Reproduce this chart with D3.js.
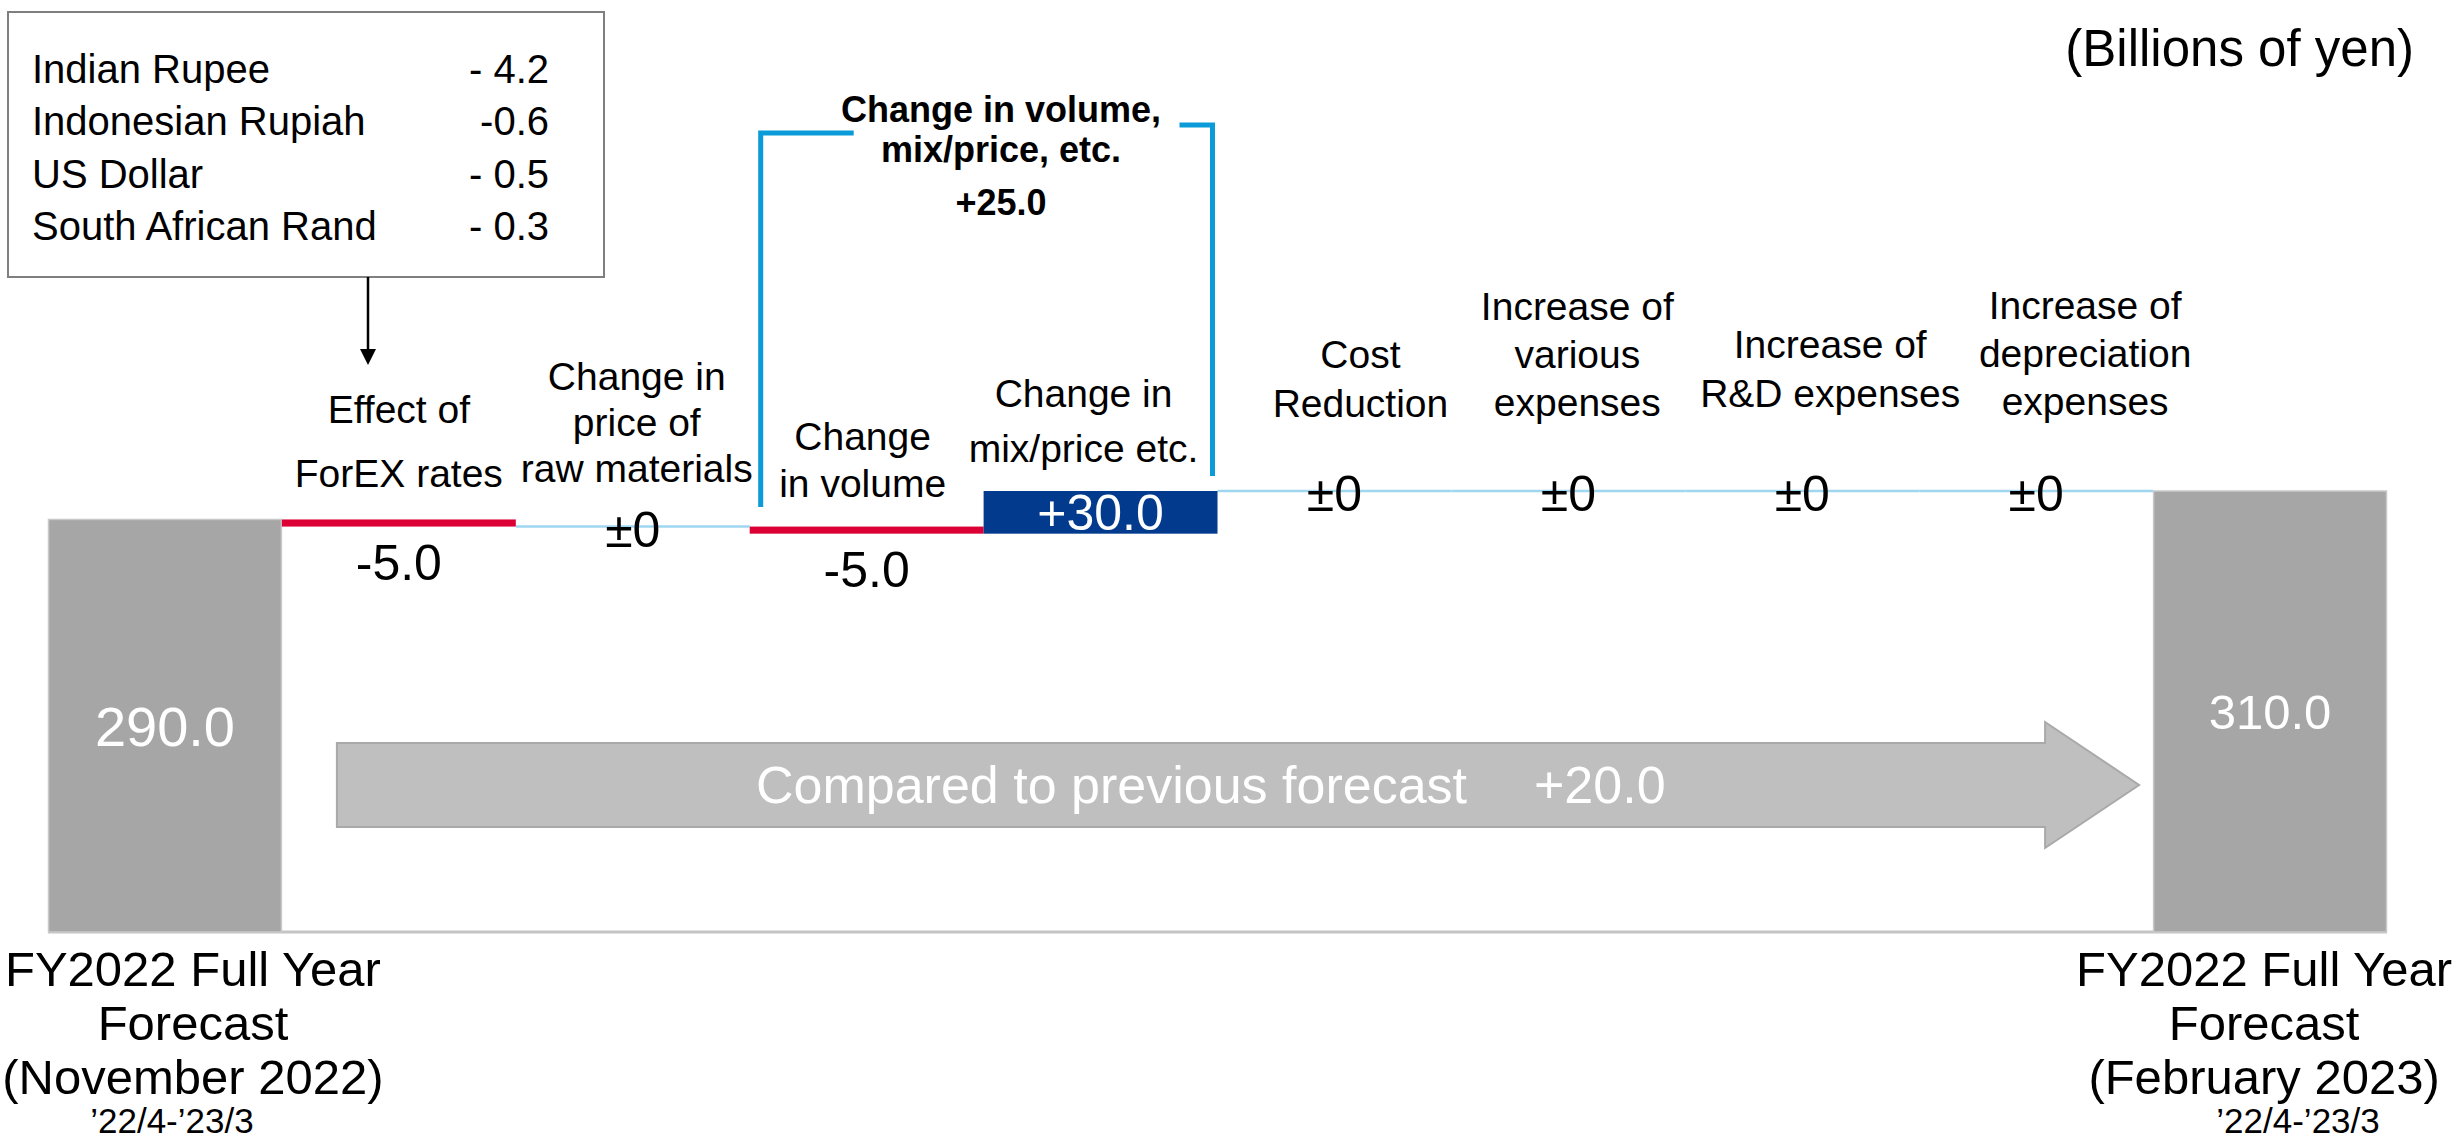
<!DOCTYPE html>
<html>
<head>
<meta charset="utf-8">
<script src="https://cdn.jsdelivr.net/npm/d3@7"></script>
<style>
  html, body { margin: 0; padding: 0; background: #ffffff; }
  svg text { font-family: "Liberation Sans", Arial, sans-serif; }
</style>
</head>
<body>
<svg id="chart" width="2459" height="1146"></svg>
<script>
// ---- data (billions of yen) ----
const startTotal = 290.0;
const endTotal = 310.0;
const stepLabels = [
  ["Effect of", "ForEX rates"],
  ["Change in", "price of", "raw materials"],
  ["Change", "in volume"],
  ["Change in", "mix/price etc."],
  ["Cost", "Reduction"],
  ["Increase of", "various", "expenses"],
  ["Increase of", "R&D expenses"],
  ["Increase of", "depreciation", "expenses"]
];
const stepValues = [-5.0, 0, -5.0, 30.0, 0, 0, 0, 0];
const totalLabels = [
  ["FY2022 Full Year", "Forecast", "(November 2022)"],
  ["FY2022 Full Year", "Forecast", "(February 2023)"]
];
const periodLabel = "\u201922/4-\u201923/3";
const currencyNames = ["Indian Rupee", "Indonesian Rupiah", "US Dollar", "South African Rand"];
const currencyLabels = ["- 4.2", "-0.6", "- 0.5", "- 0.3"];
const groupedSteps = [2, 3];           // volume + mix/price
const groupTitle = ["Change in volume,", "mix/price, etc."];
const unitLabel = "(Billions of yen)";
const arrowLabel = "Compared to previous forecast";

// ---- layout ----
const W = 2459, H = 1146;
const svg = d3.select("#chart");
const RED = "#dc0035", BLUE = "#023a8e", GREY = "#a6a6a6", LINK = "#9fd6f0", BRACKET = "#0a9bd8";

const slots = ["start"].concat(stepValues.map((_, i) => "s" + i), ["end"]);
const x = d3.scaleBand().domain(slots).range([48, 2387]).padding(0);
const y = d3.scaleLinear().domain([0, endTotal]).range([932, 491]);
const bw = x.bandwidth();

const fmt = v => v === 0 ? "\u00b10" : (v < 0 ? "-" : "+") + Math.abs(v).toFixed(1);

// running totals
let run = startTotal;
const steps = stepValues.map((v, i) => {
  const s = { key: "s" + i, v, from: run, to: run + v, lines: stepLabels[i] };
  run += v;
  return s;
});

// baseline
svg.append("line")
  .attr("x1", x("start")).attr("x2", x("end") + bw)
  .attr("y1", y(0)).attr("y2", y(0))
  .attr("stroke", "#c4c4c4").attr("stroke-width", 3);

// total bars
const totals = [{ key: "start", v: startTotal }, { key: "end", v: endTotal }];
svg.selectAll("rect.total").data(totals).join("rect")
  .attr("class", "total")
  .attr("x", d => x(d.key) + 0.5).attr("width", bw - 1)
  .attr("y", d => y(d.v)).attr("height", d => y(0) - y(d.v))
  .attr("fill", GREY).attr("stroke", "#c9c9c9").attr("stroke-width", 1.5);

svg.selectAll("text.totalVal").data(totals).join("text")
  .attr("class", "totalVal")
  .attr("x", d => x(d.key) + bw / 2)
  .attr("y", d => (y(d.v) + y(0)) / 2)
  .attr("dy", "0.36em")
  .attr("text-anchor", "middle")
  .attr("fill", "#ffffff")
  .attr("font-size", (d, i) => i === 0 ? 56 : 49)
  .text(d => d.v.toFixed(1));

// zero steps: connector line at the running level
svg.selectAll("line.flat").data(steps.filter(s => s.v === 0)).join("line")
  .attr("class", "flat")
  .attr("x1", d => x(d.key)).attr("x2", d => x(d.key) + bw)
  .attr("y1", d => y(d.from)).attr("y2", d => y(d.from))
  .attr("stroke", LINK).attr("stroke-width", 2.5);

// non-zero steps
svg.selectAll("rect.step").data(steps.filter(s => s.v !== 0)).join("rect")
  .attr("class", "step")
  .attr("x", d => x(d.key)).attr("width", bw)
  .attr("y", d => y(Math.max(d.from, d.to)))
  .attr("height", d => Math.abs(y(d.from) - y(d.to)))
  .attr("fill", d => d.v < 0 ? RED : BLUE);

// step value labels
svg.selectAll("text.stepVal").data(steps).join("text")
  .attr("class", "stepVal")
  .attr("x", d => x(d.key) + bw / 2)
  .attr("y", d => {
    if (d.v === 0) return y(d.from) + 20;
    if (d.v < 0) return y(d.to) + 53;
    return (y(d.from) + y(d.to)) / 2 + 18;
  })
  .attr("text-anchor", "middle")
  .attr("font-size", 50)
  .attr("fill", d => d.v > 0 ? "#ffffff" : "#000000")
  .text(d => fmt(d.v));

// category labels above each step
const labelPos = [
  { dx: 0, base: 487, gap: 64 },
  { dx: 4, base: 482, gap: 46 },
  { dx: -4, base: 497, gap: 47 },
  { dx: -17, base: 462, gap: 55 },
  { dx: 26, base: 417, gap: 49 },
  { dx: 9, base: 416, gap: 48 },
  { dx: 28, base: 407, gap: 49 },
  { dx: 49, base: 415, gap: 48 }
];
steps.forEach((s, i) => {
  const p = labelPos[i];
  const n = s.lines.length;
  const t = svg.append("text")
    .attr("text-anchor", "middle").attr("font-size", 39).attr("fill", "#000");
  s.lines.forEach((ln, j) => {
    t.append("tspan")
      .attr("x", x(s.key) + bw / 2 + p.dx)
      .attr("y", p.base - (n - 1 - j) * p.gap)
      .text(ln);
  });
});

// total labels under the bars
totals.forEach((d, i) => {
  const cx = x(d.key) + bw / 2 + (i === 0 ? 28 : -6);
  const t = svg.append("text").attr("text-anchor", "middle").attr("font-size", 49).attr("fill", "#000");
  totalLabels[i].forEach((ln, j) => {
    t.append("tspan").attr("x", cx).attr("y", 986 + j * 54).text(ln);
  });
  svg.append("text")
    .attr("x", x(d.key) + bw / 2 + (i === 0 ? 7 : 28))
    .attr("y", 1133)
    .attr("text-anchor", "middle").attr("font-size", 35).attr("fill", "#000")
    .text(periodLabel);
});

// unit label
svg.append("text")
  .attr("x", 2414).attr("y", 66)
  .attr("text-anchor", "end").attr("font-size", 51).attr("fill", "#000")
  .text(unitLabel);

// currency breakdown box with arrow to the ForEX step
const box = { x: 8, y: 12, w: 596, h: 265 };
svg.append("rect")
  .attr("x", box.x).attr("y", box.y).attr("width", box.w).attr("height", box.h)
  .attr("fill", "#fff").attr("stroke", "#7f7f7f").attr("stroke-width", 2);
currencyNames.forEach((nm, i) => {
  const by = 83 + i * 52.3;
  svg.append("text").attr("x", 32).attr("y", by).attr("font-size", 40).attr("fill", "#000").text(nm);
  svg.append("text").attr("x", 549).attr("y", by).attr("text-anchor", "end")
    .attr("font-size", 40).attr("fill", "#000").text(currencyLabels[i]);
});
const ax = 368;
svg.append("line").attr("x1", ax).attr("x2", ax).attr("y1", box.y + box.h).attr("y2", 352)
  .attr("stroke", "#000").attr("stroke-width", 2.5);
svg.append("path")
  .attr("d", `M${ax - 8},349 L${ax + 8},349 L${ax},365 Z`)
  .attr("fill", "#000");

// bracket grouping volume + mix/price
const g0 = steps[groupedSteps[0]], g1 = steps[groupedSteps[groupedSteps.length - 1]];
const groupSum = groupedSteps.reduce((a, i) => a + stepValues[i], 0);
const bl = x(g0.key) + 11, br = x(g1.key) + bw - 5;
svg.append("path")
  .attr("d", `M${bl + 93},133 H${bl} V507`)
  .attr("fill", "none").attr("stroke", BRACKET).attr("stroke-width", 5);
svg.append("path")
  .attr("d", `M${br - 33},125 H${br} V476`)
  .attr("fill", "none").attr("stroke", BRACKET).attr("stroke-width", 5);
const gcx = 1001;
const gt = svg.append("text").attr("text-anchor", "middle").attr("font-size", 36)
  .attr("font-weight", "bold").attr("fill", "#000");
gt.append("tspan").attr("x", gcx).attr("y", 122).text(groupTitle[0]);
gt.append("tspan").attr("x", gcx).attr("y", 162).text(groupTitle[1]);
gt.append("tspan").attr("x", gcx).attr("y", 215).text(fmt(groupSum));

// overall change arrow
const ay = y(0) - 147;
const aL = x(steps[0].key) + 55, aTip = x("end") - 14, aBack = aTip - 94;
svg.append("path")
  .attr("d", `M${aL},${ay - 42} H${aBack} V${ay - 63} L${aTip},${ay} L${aBack},${ay + 63} V${ay + 42} H${aL} Z`)
  .attr("fill", "#bfbfbf").attr("stroke", "#a9a9a9").attr("stroke-width", 2);
svg.append("text")
  .attr("x", 1467).attr("y", ay + 18)
  .attr("text-anchor", "end").attr("font-size", 52).attr("fill", "#ffffff")
  .text(arrowLabel);
svg.append("text")
  .attr("x", 1534).attr("y", ay + 18)
  .attr("text-anchor", "start").attr("font-size", 52).attr("fill", "#ffffff")
  .text(fmt(endTotal - startTotal));
</script>
</body>
</html>
